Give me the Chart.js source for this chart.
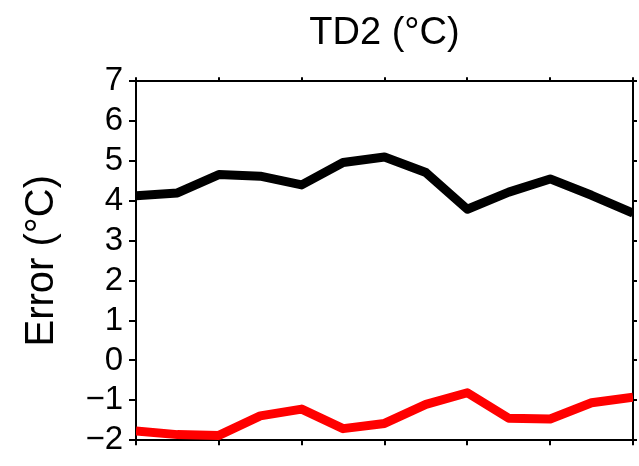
<!DOCTYPE html>
<html><head><meta charset="utf-8">
<script src="https://cdn.jsdelivr.net/npm/chart.js@4/dist/chart.umd.min.js"></script>
<style>html,body{margin:0;padding:0;background:#fff;}#wrap{width:639px;height:466px;}</style>
</head><body><div id="wrap"><canvas id="c" width="639" height="466"></canvas></div>
<script>
const xSteps = [0, 1, 2, 3, 4, 5, 6, 7, 8, 9, 10, 11, 12];
const blackErr = [4.13, 4.2, 4.66, 4.62, 4.4, 4.96, 5.1, 4.71, 3.79, 4.22, 4.55, 4.14, 3.69];
const redErr = [-1.77, -1.86, -1.88, -1.39, -1.22, -1.71, -1.58, -1.10, -0.81, -1.45, -1.47, -1.06, -0.92];
const titleText = 'TD2 (°C)';
const yTitleText = 'Error (°C)';
const yMin = -2, yMax = 7;

const toPts = arr => arr.map((v, i) => ({x: xSteps[i], y: v}));
const FONT = "'Liberation Sans', Arial, sans-serif";
const frameGrid = (len) => ({drawOnChartArea: false, drawTicks: true, tickLength: len, lineWidth: 2, color: '#000'});
const frameBorder = {display: true, width: 2, color: '#000'};

new Chart(document.getElementById('c'), {
  type: 'line',
  data: {
    datasets: [
      {data: toPts(blackErr), borderColor: '#000', borderWidth: 9, pointRadius: 0, tension: 0, borderJoinStyle: 'round', borderCapStyle: 'butt', xAxisID: 'x', yAxisID: 'y'},
      {data: toPts(redErr), borderColor: '#ff0000', borderWidth: 9, pointRadius: 0, tension: 0, borderJoinStyle: 'round', borderCapStyle: 'butt', xAxisID: 'x', yAxisID: 'y'}
    ]
  },
  options: {
    responsive: false,
    devicePixelRatio: 1,
    animation: false,
    layout: {padding: 0},
    plugins: {
      legend: {display: false},
      tooltip: {enabled: false},
      title: {
        display: true, text: titleText, color: '#000', fullSize: false,
        font: {family: FONT, size: 38, weight: 'normal', lineHeight: 1.2},
        padding: {top: 11, bottom: 0}
      }
    },
    scales: {
      x: {
        type: 'linear', position: 'bottom', min: xSteps[0], max: xSteps[xSteps.length - 1],
        ticks: {stepSize: 2, display: false, autoSkip: false},
        grid: frameGrid(5), border: frameBorder,
        afterFit: s => { s.height = 16; }
      },
      x2: {
        type: 'linear', position: 'top', min: xSteps[0], max: xSteps[xSteps.length - 1],
        ticks: {stepSize: 2, display: false, autoSkip: false},
        grid: frameGrid(4), border: frameBorder,
        afterFit: s => { s.height = 24.6; }
      },
      y: {
        type: 'linear', position: 'left', min: yMin, max: yMax,
        ticks: {stepSize: 1, autoSkip: false, color: '#000', padding: 6, font: {family: FONT, size: 33},
          callback: v => String(v).replace('-', '\u2212')},
        grid: frameGrid(7), border: frameBorder,
        title: {display: true, text: yTitleText, color: '#000', font: {family: FONT, size: 40, lineHeight: 1.2}, padding: {top: 18, bottom: 0}},
        afterFit: s => { s.width = 136; }
      },
      y2: {
        type: 'linear', position: 'right', min: yMin, max: yMax,
        ticks: {stepSize: 1, display: false, autoSkip: false},
        grid: frameGrid(4), border: frameBorder,
        afterFit: s => { s.width = 6; }
      }
    }
  }
});
</script>
</body></html>
